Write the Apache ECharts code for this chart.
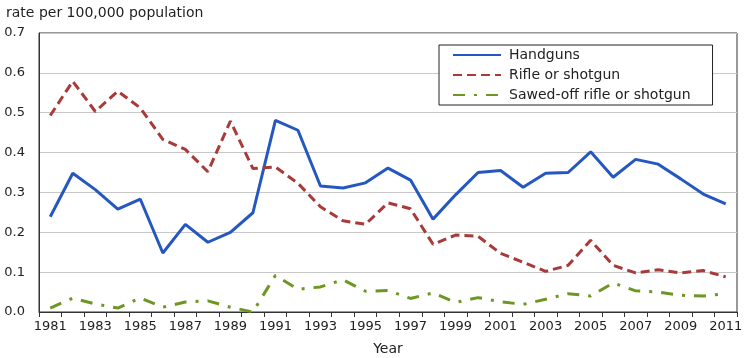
<!DOCTYPE html>
<html><head><meta charset="utf-8">
<script src="https://cdn.jsdelivr.net/npm/echarts@6/dist/echarts.min.js"></script>
<style>html,body{margin:0;padding:0;background:#fff}#c{width:754px;height:358px}</style>
</head><body><div id="c"></div>
<script>
const years = ['1981','1982','1983','1984','1985','1986','1987','1988','1989','1990','1991','1992','1993','1994','1995','1996','1997','1998','1999','2000','2001','2002','2003','2004','2005','2006','2007','2008','2009','2010','2011'];
const handguns = [0.239,0.348,0.307,0.258,0.283,0.148,0.220,0.175,0.200,0.249,0.481,0.456,0.316,0.311,0.324,0.361,0.331,0.233,0.294,0.350,0.355,0.313,0.348,0.350,0.402,0.338,0.383,0.371,0.334,0.296,0.271];
const rifle = [0.493,0.579,0.503,0.554,0.512,0.433,0.408,0.352,0.479,0.360,0.364,0.323,0.264,0.229,0.220,0.274,0.259,0.170,0.193,0.190,0.147,0.125,0.102,0.117,0.180,0.117,0.098,0.106,0.098,0.104,0.088];
const sawedOff = [0.010,0.035,0.020,0.010,0.035,0.012,0.025,0.028,0.012,0.000,0.092,0.057,0.063,0.081,0.052,0.054,0.034,0.048,0.024,0.036,0.026,0.019,0.032,0.046,0.040,0.073,0.053,0.050,0.042,0.040,0.046];
const yTicks = ['0.0','0.1','0.2','0.3','0.4','0.5','0.6','0.7'];
const seriesNames = ['Handguns','Rifle or shotgun','Sawed-off rifle or shotgun'];
const font = '"DejaVu Sans", Verdana, sans-serif';
const chart = echarts.init(document.getElementById('c'), null, {renderer:'canvas'});
chart.setOption({
  animation:false,
  backgroundColor:'#fff',
  title:{text:'rate per 100,000 population',left:1,top:1,textStyle:{fontFamily:font,fontSize:14,fontWeight:'normal',color:'#222'}},
  grid:{left:39,right:17,top:33,bottom:46,outerBoundsMode:'none',containLabel:false,show:true,borderColor:'#333',borderWidth:1,backgroundColor:'transparent'},
  legend:{
    orient:'vertical',left:439,top:45,
    data:seriesNames,
    backgroundColor:'#fff',borderColor:'#222',borderWidth:1,
    padding:[3,22,3,13],itemGap:6,itemWidth:48,itemHeight:14,
    itemStyle:{opacity:0},
    textStyle:{fontFamily:font,fontSize:14,color:'#222',padding:[0,0,0,3]}
  },
  xAxis:{
    type:'category',data:years,boundaryGap:true,
    name:'Year',nameLocation:'middle',nameGap:30,
    nameTextStyle:{fontFamily:font,fontSize:14,color:'#222'},
    axisLine:{lineStyle:{color:'#333'}},
    axisTick:{show:true,interval:0,length:5,lineStyle:{color:'#333'}},
    axisLabel:{interval:1,fontFamily:font,fontSize:13,color:'#222',margin:8},
    splitLine:{show:false}
  },
  yAxis:{
    type:'value',min:0,max:0.7,interval:0.1,
    axisLine:{show:true,lineStyle:{color:'#333'}},
    axisTick:{show:false},
    axisLabel:{fontFamily:font,fontSize:13,color:'#222',margin:14,formatter:(v)=>yTicks[Math.round(v*10)]},
    splitLine:{lineStyle:{color:'#c8c8c8',width:1}}
  },
  series:[
    {name:seriesNames[0],type:'line',data:handguns,symbol:'none',color:'#2458c0',lineStyle:{color:'#2458c0',width:3}},
    {name:seriesNames[1],type:'line',data:rifle,symbol:'none',color:'#a83a3a',lineStyle:{color:'#a83a3a',width:3,type:[9,5]}},
    {name:seriesNames[2],type:'line',data:sawedOff,symbol:'none',color:'#6e9624',lineStyle:{color:'#6e9624',width:3,type:[12,9,3,9]}}
  ]
});
</script></body></html>
